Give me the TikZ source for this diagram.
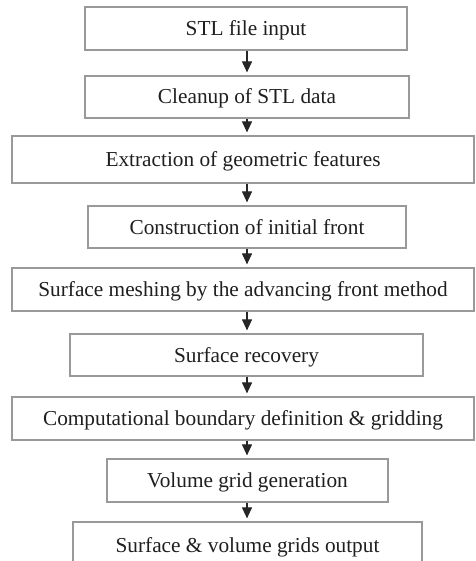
\documentclass[tikz,border=0pt]{standalone}
\usepackage{fontspec}
\setmainfont{Liberation Serif}
\usetikzlibrary{arrows.meta}
\begin{document}
\begin{tikzpicture}[x=1pt,y=-1pt,
  stepbox/.style={draw=black!40, line width=1.2pt, fill=white, inner sep=0pt,
    font=\fontsize{21.3}{23}\selectfont, text=black!88, anchor=center,
    text height=14pt, text depth=0pt},
  flow/.style={draw=black!85, line width=1.1pt,
    -{Triangle[length=11pt,width=10pt]}, shorten >=3pt}]
\path[use as bounding box] (0,0) rectangle (475,561);
\clip (0,0) rectangle (475,561);
\coordinate (ax) at (247,0);
\node[stepbox, minimum width=322pt, minimum height=43pt] (s1) at (246,28.5) {STL file input};
\node[stepbox, minimum width=324pt, minimum height=42pt] (s2) at (247,97) {Cleanup of STL data};
\node[stepbox, minimum width=462pt, minimum height=47pt] (s3) at (243,159.5) {Extraction of geometric features};
\node[stepbox, minimum width=318pt, minimum height=42pt] (s4) at (247,227) {Construction of initial front};
\node[stepbox, minimum width=462pt, minimum height=43pt] (s5) at (243,289.5) {Surface meshing by the advancing front method};
\node[stepbox, minimum width=353pt, minimum height=42pt] (s6) at (246.5,355) {Surface recovery};
\node[stepbox, minimum width=462pt, minimum height=43pt] (s7) at (243,418.5) {Computational boundary definition \& gridding};
\node[stepbox, minimum width=281pt, minimum height=43pt] (s8) at (247.5,480.5) {Volume grid generation};
\node[stepbox, minimum width=349pt, minimum height=46pt] (s9) at (247.5,545) {Surface \& volume grids output};
\foreach \a/\b in {s1/s2,s2/s3,s3/s4,s4/s5,s5/s6,s6/s7,s7/s8,s8/s9}
  \draw[flow] (\a.south -| ax) -- (\b.north -| ax);
\end{tikzpicture}
\end{document}
